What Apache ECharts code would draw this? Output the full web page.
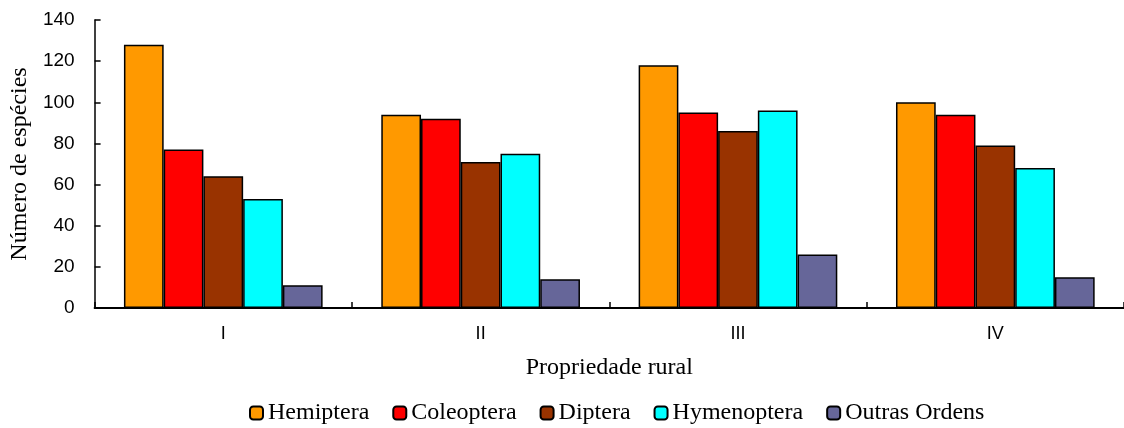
<!DOCTYPE html>
<html>
<head>
<meta charset="utf-8">
<script src="https://cdn.jsdelivr.net/npm/echarts@6/dist/echarts.min.js"></script>
<style>html,body{margin:0;padding:0;background:#fff}#c{width:1124px;height:428px}</style>
</head>
<body>
<div id="c"></div>
<script>
const categories = ['I', 'II', 'III', 'IV'];
const seriesNames = ['Hemiptera', 'Coleoptera', 'Diptera', 'Hymenoptera', 'Outras Ordens'];
const hemiptera = [128, 94, 118, 100];
const coleoptera = [77, 92, 95, 94];
const diptera = [64, 71, 86, 79];
const hymenoptera = [53, 75, 96, 68];
const outras = [11, 14, 26, 15];
const yTicks = [0, 20, 40, 60, 80, 100, 120, 140];
const colors = ['#FF9900', '#FF0000', '#993300', '#00FFFF', '#666699'];

const values = [hemiptera, coleoptera, diptera, hymenoptera, outras];
const chart = echarts.init(document.getElementById('c'), null, {renderer: 'canvas'});
const serif = '"Liberation Serif", "Times New Roman", serif';
const sans = '"Liberation Sans", Arial, sans-serif';
chart.setOption({
  animation: false,
  backgroundColor: '#fff',
  grid: {left: 93, top: 20, width: 1037, height: 288, containLabel: false},
  legend: {
    data: seriesNames,
    left: 244,
    top: 396,
    itemWidth: 13,
    itemHeight: 13,
    itemGap: 23,
    textStyle: {fontFamily: serif, fontSize: 24, color: '#000'}
  },
  xAxis: {
    type: 'category',
    data: categories,
    name: 'Propriedade rural',
    nameLocation: 'middle',
    nameGap: 48,
    nameTextStyle: {fontFamily: serif, fontSize: 24, color: '#000'},
    axisLine: {lineStyle: {color: '#000', width: 2}},
    axisTick: {show: true, inside: true, length: 6, lineStyle: {color: '#000', width: 1.5}},
    axisLabel: {fontFamily: sans, fontSize: 18, color: '#000', margin: 17}
  },
  yAxis: {
    type: 'value',
    min: yTicks[0],
    max: yTicks[yTicks.length - 1],
    interval: 20,
    name: 'Número de espécies',
    nameLocation: 'middle',
    nameGap: 56,
    nameTextStyle: {fontFamily: serif, fontSize: 24, color: '#000'},
    axisLine: {show: true, lineStyle: {color: '#000', width: 1.5}},
    axisTick: {show: true, inside: true, length: 6, lineStyle: {color: '#000', width: 1.5}},
    axisLabel: {fontFamily: sans, fontSize: 19, color: '#000', margin: 20},
    splitLine: {show: false}
  },
  series: seriesNames.map((n, i) => ({
    name: n,
    type: 'bar',
    data: values[i],
    barGap: '0%',
    barCategoryGap: '22.8%',
    itemStyle: {color: colors[i], borderColor: '#000', borderWidth: 1.5}
  }))
});
</script>
</body>
</html>
